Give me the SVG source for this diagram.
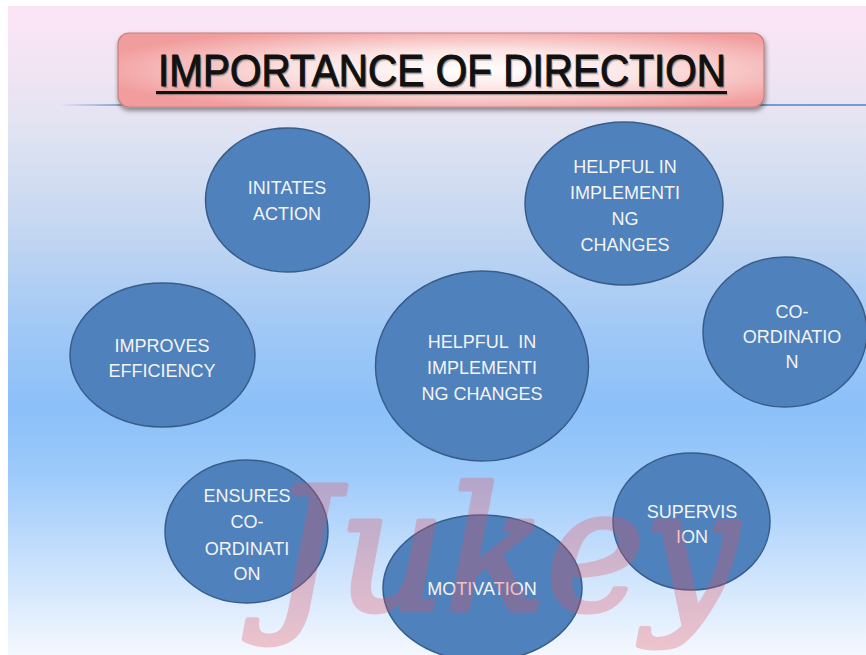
<svg xmlns="http://www.w3.org/2000/svg" width="866" height="655" viewBox="0 0 866 655">
<defs>
<linearGradient id="bg" x1="0" y1="0" x2="0" y2="1">
<stop offset="0" stop-color="#fbe5f5"/>
<stop offset="0.1" stop-color="#f1e4f3"/>
<stop offset="0.2" stop-color="#dfe3f2"/>
<stop offset="0.35" stop-color="#c3d6f1"/>
<stop offset="0.5" stop-color="#a0c8f6"/>
<stop offset="0.62" stop-color="#8bc0f9"/>
<stop offset="0.72" stop-color="#9ccafa"/>
<stop offset="0.85" stop-color="#c6dffc"/>
<stop offset="1" stop-color="#f4f8fe"/>
</linearGradient>
<radialGradient id="boxg" cx="0.55" cy="0.5" r="0.6">
<stop offset="0" stop-color="#ffffff"/>
<stop offset="0.45" stop-color="#fce4e4"/>
<stop offset="1" stop-color="#f29d9d"/>
</radialGradient>
<linearGradient id="lineg" x1="60" y1="0" x2="866" y2="0" gradientUnits="userSpaceOnUse">
<stop offset="0" stop-color="#4f81bd" stop-opacity="0"/>
<stop offset="0.08" stop-color="#4f81bd" stop-opacity="0.9"/>
<stop offset="1" stop-color="#4f81bd"/>
</linearGradient>
<filter id="shadow" x="-5%" y="-20%" width="110%" height="150%">
<feGaussianBlur in="SourceAlpha" stdDeviation="2.5"/>
<feOffset dx="1" dy="3" result="b"/>
<feComponentTransfer><feFuncA type="linear" slope="0.45"/></feComponentTransfer>
<feMerge><feMergeNode/><feMergeNode in="SourceGraphic"/></feMerge>
</filter>
<style>
.node ellipse{fill:#4f81bd;stroke:#385d8a;stroke-width:1.5}
.node text{fill:#f4f4f4;font-family:"Liberation Sans",Arial,sans-serif;font-size:18px;text-anchor:middle}
.title{font-family:"Liberation Sans",Arial,sans-serif;font-size:44px;fill:#111;text-anchor:middle;stroke-width:1.1;stroke-linejoin:round}
</style>
</defs>
<rect x="0" y="0" width="866" height="655" fill="#ffffff"/>
<rect x="8" y="6" width="858" height="649" fill="url(#bg)"/>
<line x1="60" y1="105" x2="866" y2="105" stroke="url(#lineg)" stroke-width="1.6"/>
<g id="title">
<rect x="118" y="33" width="646" height="74" rx="11" ry="11" fill="url(#boxg)" stroke="#c58080" stroke-width="1.2" filter="url(#shadow)"/>
<text class="title" x="442" y="86" textLength="568" lengthAdjust="spacingAndGlyphs" fill="#999" stroke="#999" opacity="0.45" transform="translate(1.5,1.5)">IMPORTANCE OF DIRECTION</text>
<text class="title" x="442" y="86" textLength="568" lengthAdjust="spacingAndGlyphs" stroke="#111">IMPORTANCE OF DIRECTION</text>
<rect x="157" y="92.5" width="571" height="3" fill="#999" opacity="0.5"/>
<rect x="156" y="91" width="571" height="3.2" fill="#111"/>
</g>
<g id="initiates-action" class="node">
<ellipse cx="287.5" cy="200" rx="82" ry="72"/>
<text x="287" y="194">INITATES</text>
<text x="287" y="220">ACTION</text>
</g>
<g id="helpful-top" class="node">
<ellipse cx="624" cy="203.5" rx="99" ry="81.5"/>
<text x="625" y="173">HELPFUL IN</text>
<text x="625" y="199">IMPLEMENTI</text>
<text x="625" y="225">NG</text>
<text x="625" y="251">CHANGES</text>
</g>
<g id="co-ordination" class="node">
<ellipse cx="785" cy="332" rx="82" ry="75"/>
<text x="792" y="318">CO-</text>
<text x="792" y="343">ORDINATIO</text>
<text x="792" y="368">N</text>
</g>
<g id="improves-efficiency" class="node">
<ellipse cx="162.5" cy="355" rx="92.5" ry="72"/>
<text x="162" y="352">IMPROVES</text>
<text x="162" y="377">EFFICIENCY</text>
</g>
<g id="helpful-center" class="node">
<ellipse cx="482" cy="366" rx="106.5" ry="95"/>
<text x="482" y="348" xml:space="preserve">HELPFUL  IN</text>
<text x="482" y="374">IMPLEMENTI</text>
<text x="482" y="400">NG CHANGES</text>
</g>
<g id="ensures-coordination" class="node">
<ellipse cx="246.5" cy="531.5" rx="81.5" ry="71.5"/>
<text x="247" y="502">ENSURES</text>
<text x="247" y="528">CO-</text>
<text x="247" y="555">ORDINATI</text>
<text x="247" y="580">ON</text>
</g>
<g id="motivation" class="node">
<ellipse cx="482.5" cy="588" rx="99.5" ry="73"/>
<text x="482" y="595">MOTIVATION</text>
</g>
<g id="supervision" class="node">
<ellipse cx="691.5" cy="521.5" rx="78.5" ry="68.5"/>
<text x="692" y="518">SUPERVIS</text>
<text x="692" y="543">ION</text>
</g>
<text x="272" y="610" font-family="'DejaVu Serif',serif" font-style="italic" font-size="170" textLength="466" lengthAdjust="spacingAndGlyphs" fill="#e2505e" stroke="#e2505e" stroke-width="5" stroke-linejoin="round" opacity="0.3">Jukey</text>
</svg>
